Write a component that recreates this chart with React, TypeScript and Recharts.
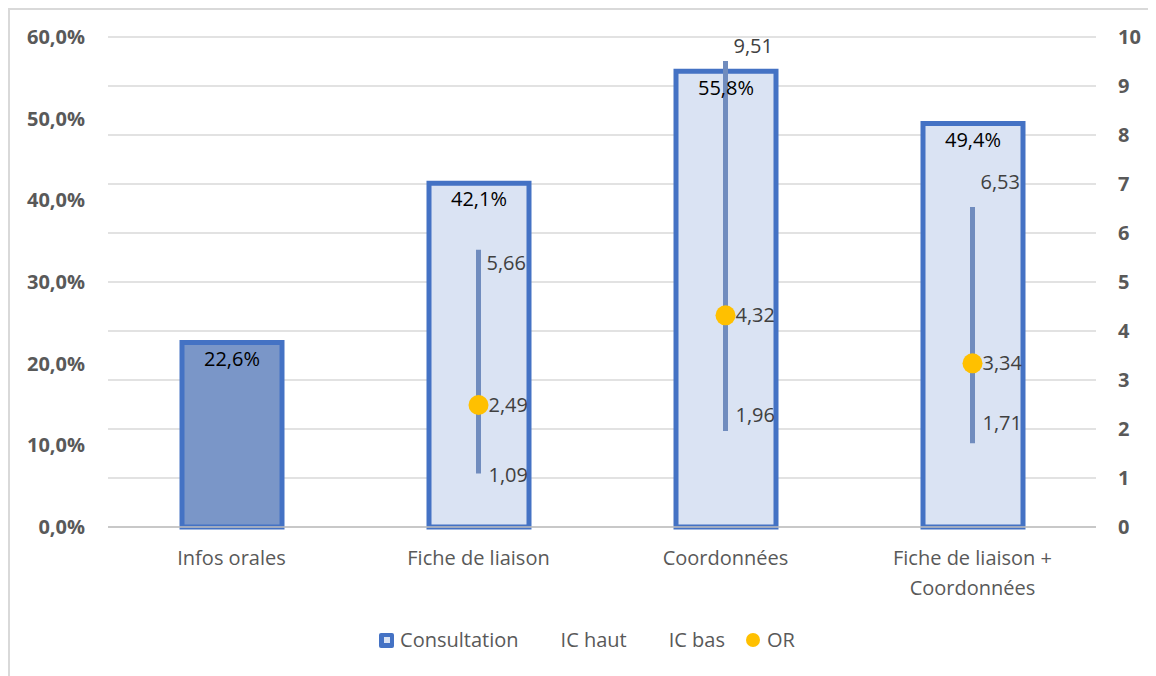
import React from 'react';
import {
  ComposedChart,
  Bar,
  Scatter,
  XAxis,
  YAxis,
  CartesianGrid,
  Cell,
  LabelList,
  Legend,
  ErrorBar,
  Text,
} from 'recharts';

// ---------- data ----------
const categories = ['Infos orales', 'Fiche de liaison', 'Coordonnées', 'Fiche de liaison + Coordonnées'];
const consultation = [0.226, 0.421, 0.558, 0.494];
const icHaut: (number | null)[] = [null, 5.66, 9.51, 6.53];
const icBas: (number | null)[] = [null, 1.09, 1.96, 1.71];
const orValues: (number | null)[] = [null, 2.49, 4.32, 3.34];
const leftTicks = [0, 0.1, 0.2, 0.3, 0.4, 0.5, 0.6];
const rightTicks = [0, 1, 2, 3, 4, 5, 6, 7, 8, 9, 10];

// ---------- style ----------
const FONT = '"Open Sans", "DejaVu Sans", sans-serif';
const BLUE = '#4472C4';
const LIGHT = '#DAE3F3';
const DARKFILL = '#7A96C8';
const ICLINE = '#708CBE';
const GOLD = '#FFC000';
const GREY = '#595959';
const barFills = [DARKFILL, LIGHT, LIGHT, LIGHT];
const hautLabelDy = [0, 13, -15, -25];
const basLabelDy = [0, 1, -16, -20];

const barData = categories.map((name, i) => ({ name, consultation: consultation[i] }));
const orData = categories
  .map((name, i) => ({
    name,
    idx: i,
    or: orValues[i],
    haut: icHaut[i],
    bas: icBas[i],
    err:
      orValues[i] == null
        ? null
        : [(orValues[i] as number) - (icBas[i] as number), (icHaut[i] as number) - (orValues[i] as number)],
  }))
  .filter((d) => d.or != null);

const fmtNum = (v: number) => v.toFixed(2).replace('.', ',');
const fmtPct = (v: number) => (v * 100).toFixed(1).replace('.', ',') + '%';

const OrShape = (props: any) => {
  const { cx, cy, payload } = props;
  if (cx == null || cy == null || isNaN(cy)) return <g />;
  return (
    <g>
      <circle cx={cx} cy={cy} r={10} fill={GOLD} />
      <text x={cx + 10} y={cy} dy="0.35em" fontFamily={FONT} fontSize={20} fill="#404040">
        {fmtNum(payload.or)}
      </text>
    </g>
  );
};

const HautShape = (props: any) => {
  const { cx, cy, payload } = props;
  if (cx == null || cy == null || isNaN(cy)) return <g />;
  return (
    <text x={cx + 8} y={cy + hautLabelDy[payload.idx]} dy="0.35em" fontFamily={FONT} fontSize={20} fill="#404040">
      {fmtNum(payload.haut)}
    </text>
  );
};

const BasShape = (props: any) => {
  const { cx, cy, payload } = props;
  if (cx == null || cy == null || isNaN(cy)) return <g />;
  return (
    <text x={cx + 10} y={cy + basLabelDy[payload.idx]} dy="0.35em" fontFamily={FONT} fontSize={20} fill="#404040">
      {fmtNum(payload.bas)}
    </text>
  );
};

const CategoryTick = (props: any) => {
  const { x, y, payload } = props;
  return (
    <Text
      x={x}
      y={y + 24}
      width={200}
      textAnchor="middle"
      verticalAnchor="start"
      lineHeight={30}
      fontFamily={FONT}
      fontSize={20}
      fill={GREY}
    >
      {payload.value}
    </Text>
  );
};

const legendItems = [
  { label: 'Consultation', icon: 'square' },
  { label: 'IC haut', icon: 'none' },
  { label: 'IC bas', icon: 'none' },
  { label: 'OR', icon: 'circle' },
];

const renderLegend = () => (
  <div
    style={{
      display: 'flex',
      justifyContent: 'center',
      alignItems: 'center',
      height: 26,
      fontFamily: FONT,
      fontSize: 20,
      color: GREY,
    }}
  >
    {legendItems.map((it, i) => (
      <div key={it.label} style={{ display: 'flex', alignItems: 'center', marginLeft: i === 0 ? 0 : 21 }}>
        <div style={{ width: 15, height: 15, display: 'flex', alignItems: 'center', justifyContent: 'center', marginRight: 6 }}>
          {it.icon === 'square' && (
            <div
              style={{
                width: 15,
                height: 15,
                background: BLUE,
                borderRadius: 2,
                display: 'flex',
                alignItems: 'center',
                justifyContent: 'center',
              }}
            >
              <div style={{ width: 6, height: 6, background: LIGHT }} />
            </div>
          )}
          {it.icon === 'circle' && (
            <div style={{ width: 14, height: 14, borderRadius: 7, background: GOLD }} />
          )}
        </div>
        <span style={{ lineHeight: '26px' }}>{it.label}</span>
      </div>
    ))}
  </div>
);

export default function App() {
  return (
    <div
      style={{
        width: 1146,
        height: 666,
        borderTop: '2px solid #D9D9D9',
        borderLeft: '2px solid #D9D9D9',
        background: '#fff',
      }}
    >
      <ComposedChart
        width={1144}
        height={664}
        data={barData}
        margin={{ top: 27, right: 8, bottom: 21, left: 18 }}
      >
        <CartesianGrid yAxisId="right" vertical={false} stroke="#D9D9D9" strokeWidth={1.5} />
        <XAxis
          dataKey="name"
          allowDuplicatedCategory={false}
          height={100}
          tickLine={false}
          tickSize={0}
          tickMargin={0}
          stroke="#BFBFBF"
          strokeWidth={1.5}
          tick={<CategoryTick />}
          interval={0}
        />
        <YAxis
          yAxisId="left"
          orientation="left"
          width={80}
          domain={[0, 0.6]}
          ticks={leftTicks}
          tickFormatter={fmtPct}
          axisLine={false}
          tickLine={false}
          tickSize={0}
          tickMargin={23}
          tick={{ fill: GREY, fontSize: 20, fontWeight: 700, fontFamily: FONT }}
        />
        <YAxis
          yAxisId="right"
          orientation="right"
          width={50}
          domain={[0, 10]}
          ticks={rightTicks}
          axisLine={false}
          tickLine={false}
          tickSize={0}
          tickMargin={22}
          tick={{ fill: GREY, fontSize: 20, fontWeight: 700, fontFamily: FONT, textAnchor: 'start' }}
        />
        <Legend verticalAlign="bottom" content={renderLegend} />
        <Bar
          yAxisId="left"
          dataKey="consultation"
          name="Consultation"
          barSize={100}
          stroke={BLUE}
          strokeWidth={5}
          isAnimationActive={false}
        >
          {barData.map((d, i) => (
            <Cell key={d.name} fill={barFills[i]} />
          ))}
          <LabelList
            dataKey="consultation"
            position="insideTop"
            offset={9}
            formatter={(v: any) => fmtPct(Number(v))}
            fill="#000"
            fontSize={20}
            fontFamily={FONT}
          />
        </Bar>
        <Scatter
          yAxisId="right"
          data={orData}
          dataKey="or"
          name="OR"
          fill={GOLD}
          shape={OrShape}
          isAnimationActive={false}
        >
          <ErrorBar dataKey="err" direction="y" width={0} strokeWidth={5} stroke={ICLINE} isAnimationActive={false} />
        </Scatter>
        <Scatter yAxisId="right" data={orData} dataKey="haut" name="IC haut" shape={HautShape} isAnimationActive={false} />
        <Scatter yAxisId="right" data={orData} dataKey="bas" name="IC bas" shape={BasShape} isAnimationActive={false} />
      </ComposedChart>
    </div>
  );
}
